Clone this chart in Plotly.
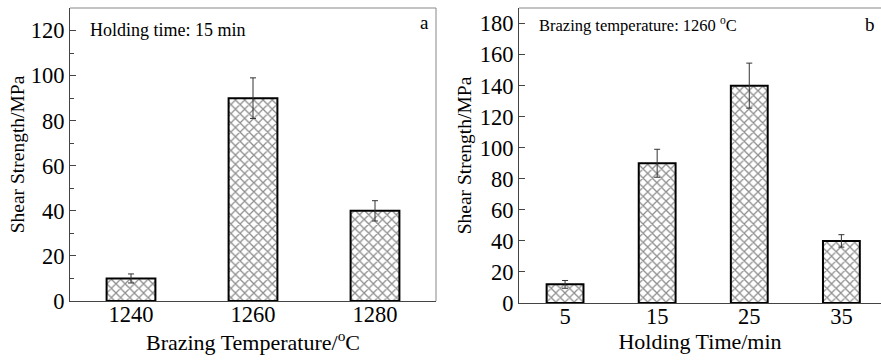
import plotly.graph_objects as go

# Panel a data
temp_labels = ["1240", "1260", "1280"]
temp_strength = [10, 90, 40]
temp_err = [2, 9, 4.5]

# Panel b data
time_labels = ["5", "15", "25", "35"]
time_strength = [12, 90, 140, 40]
time_err = [2.5, 9, 14.5, 4]

FONT = "Liberation Serif, Times New Roman, serif"

fig = go.Figure()

bar_style = dict(
    width=0.4,
    marker=dict(
        color="white",
        line=dict(color="black", width=2),
        pattern=dict(shape="x", fgcolor="#1a1a1a", bgcolor="white", size=6.5, solidity=0.36),
    ),
    showlegend=False,
)

fig.add_trace(go.Bar(
    x=temp_labels, y=temp_strength, xaxis="x", yaxis="y",
    error_y=dict(type="data", array=temp_err, color="#333", thickness=1, width=3),
    **bar_style,
))
fig.add_trace(go.Bar(
    x=time_labels, y=time_strength, xaxis="x2", yaxis="y2",
    error_y=dict(type="data", array=time_err, color="#333", thickness=1, width=3),
    **bar_style,
))

axis_common = dict(showline=True, linecolor="#444", linewidth=1, showgrid=False,
                   zeroline=False, automargin=False,
                   tickfont=dict(family=FONT, size=22.5, color="black"))

fig.update_layout(
    width=881, height=362,
    margin=dict(l=0, r=0, t=0, b=0),
    plot_bgcolor="white", paper_bgcolor="white",
    font=dict(family=FONT, color="black"),
    xaxis=dict(domain=[70/881, 436/881], anchor="y", type="category",
               range=[-0.5, 2.5], ticks="", ticklen=0, ticklabelstandoff=-7,
               title=dict(text="Brazing Temperature/<sup>o</sup>C", font=dict(family=FONT, size=22), standoff=0),
               **axis_common),
    yaxis=dict(domain=[61/362, 354/362], anchor="x", range=[0, 130],
               tickvals=[0, 20, 40, 60, 80, 100, 120], ticks="inside", ticklen=6, tickcolor="#444",
               minor=dict(dtick=10, ticks="inside", ticklen=4, tickcolor="#444"),
               title=dict(text="Shear Strength/MPa", font=dict(family=FONT, size=19.5), standoff=0),
               **axis_common),
    xaxis2=dict(domain=[519/881, 1.0], anchor="y2", type="category",
                range=[-0.5, 3.43], ticks="", ticklen=0, ticklabelstandoff=-7,
                title=dict(text="Holding Time/min", font=dict(family=FONT, size=22), standoff=0),
                **axis_common),
    yaxis2=dict(domain=[59/362, 354/362], anchor="x2", range=[0, 190],
                tickvals=[0, 20, 40, 60, 80, 100, 120, 140, 160, 180], ticks="inside", ticklen=6, tickcolor="#444",
                title=dict(text="Shear Strength/MPa", font=dict(family=FONT, size=19.5), standoff=2),
                **axis_common),
    bargap=0.6,
)

# top/right frame lines
for xr, yr, right in [("x domain", "y domain", True), ("x2 domain", "y2 domain", False)]:
    fig.add_shape(type="line", xref=xr, yref=yr, x0=0, x1=1, y0=1, y1=1,
                  line=dict(color="#888", width=1))
    if right:
        fig.add_shape(type="line", xref=xr, yref=yr, x0=1, x1=1, y0=0, y1=1,
                      line=dict(color="#888", width=1))

fig.add_annotation(xref="x domain", yref="y domain", x=0.05, y=0.925, xanchor="left", yanchor="middle",
                   text="Holding time: 15 min", showarrow=False, font=dict(family=FONT, size=18))
fig.add_annotation(xref="x domain", yref="y domain", x=0.985, y=0.95, xanchor="right", yanchor="middle",
                   text="a", showarrow=False, font=dict(family=FONT, size=19))
fig.add_annotation(xref="x2 domain", yref="y2 domain", x=0.05, y=0.945, xanchor="left", yanchor="middle",
                   text="Brazing temperature: 1260 <sup>o</sup>C", showarrow=False, font=dict(family=FONT, size=16.5))
fig.add_annotation(xref="x2 domain", yref="y2 domain", x=0.99, y=0.945, xanchor="right", yanchor="middle",
                   text="b", showarrow=False, font=dict(family=FONT, size=19))

fig.write_html("out.html")
